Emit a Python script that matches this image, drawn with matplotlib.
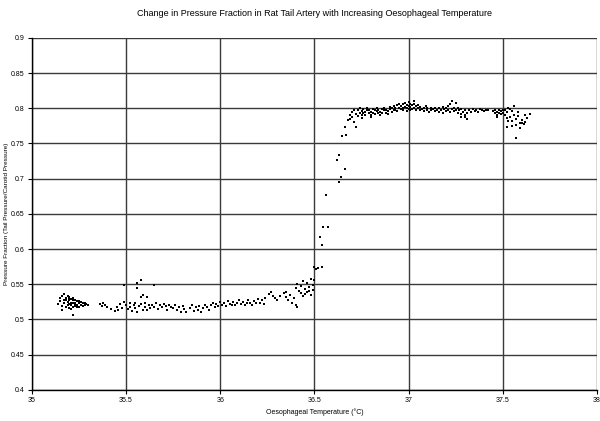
import numpy as np
import matplotlib
matplotlib.use("Agg")
import matplotlib.pyplot as plt

plt.rcParams['font.family'] = ['Liberation Sans', 'DejaVu Sans']

# low plateau and slow rise (below 36.5 C)
base_temp = [35.14, 35.15, 35.15, 35.16, 35.16, 35.17, 35.17, 35.17, 35.18, 35.18,
             35.18, 35.19, 35.19, 35.19, 35.20, 35.20, 35.20, 35.20, 35.21, 35.21,
             35.21, 35.22, 35.22, 35.22, 35.23, 35.23, 35.23, 35.24, 35.24, 35.25,
             35.25, 35.26, 35.26, 35.27, 35.27, 35.28, 35.28, 35.29, 35.16, 35.18,
             35.20, 35.22, 35.24, 35.19, 35.21, 35.17, 35.23, 35.22, 35.25, 35.30,
             35.36, 35.37, 35.38, 35.39, 35.40, 35.42, 35.44, 35.45, 35.46, 35.47,
             35.48, 35.49, 35.49, 35.56, 35.58, 35.56, 35.59, 35.65, 35.61, 35.58,
             35.50, 35.51, 35.52, 35.52, 35.53, 35.54, 35.55, 35.55, 35.56, 35.57,
             35.58, 35.59, 35.60, 35.60, 35.61, 35.62, 35.63, 35.64, 35.65, 35.66,
             35.67, 35.68, 35.69, 35.70, 35.71, 35.72, 35.73, 35.74, 35.75, 35.76,
             35.77, 35.78, 35.79, 35.80, 35.81, 35.82, 35.84, 35.85, 35.86, 35.87,
             35.88, 35.89, 35.90, 35.91, 35.92, 35.93, 35.94, 35.95, 35.96, 35.97,
             35.98, 35.99, 36.00, 36.01, 36.02, 36.03, 36.04, 36.05, 36.06, 36.07,
             36.08, 36.09, 36.10, 36.11, 36.12, 36.13, 36.14, 36.15, 36.16, 36.17,
             36.18, 36.19, 36.20, 36.21, 36.22, 36.23, 36.24, 36.26, 36.27, 36.28,
             36.29, 36.34, 36.35, 36.36, 36.37, 36.38, 36.39, 36.40, 36.41, 36.35,
             36.40, 36.41, 36.42, 36.43, 36.44, 36.45, 36.46, 36.47, 36.48, 36.49,
             36.43, 36.45, 36.47, 36.49, 36.44, 36.48, 36.46, 36.50, 36.30, 36.32]
base_frac = [0.522, 0.526, 0.530, 0.519, 0.533, 0.524, 0.528, 0.536, 0.518, 0.527,
             0.531, 0.521, 0.525, 0.534, 0.516, 0.522, 0.527, 0.532, 0.520, 0.524,
             0.529, 0.517, 0.523, 0.527, 0.519, 0.524, 0.528, 0.520, 0.526, 0.518,
             0.523, 0.521, 0.525, 0.519, 0.524, 0.520, 0.523, 0.522, 0.513, 0.529,
             0.530, 0.531, 0.517, 0.520, 0.515, 0.523, 0.521, 0.507, 0.526, 0.520,
             0.522, 0.519, 0.524, 0.520, 0.517, 0.515, 0.512, 0.518, 0.514, 0.522,
             0.516, 0.525, 0.549, 0.552, 0.556, 0.545, 0.535, 0.549, 0.532, 0.532,
             0.521, 0.515, 0.524, 0.518, 0.512, 0.520, 0.516, 0.523, 0.510, 0.519,
             0.522, 0.514, 0.518, 0.524, 0.513, 0.520, 0.516, 0.521, 0.518, 0.523,
             0.515, 0.520, 0.517, 0.522, 0.519, 0.514, 0.521, 0.518, 0.516, 0.520,
             0.513, 0.517, 0.511, 0.519, 0.515, 0.510, 0.516, 0.521, 0.512, 0.518,
             0.514, 0.519, 0.511, 0.516, 0.521, 0.518, 0.513, 0.520, 0.523, 0.517,
             0.522, 0.519, 0.525, 0.521, 0.524, 0.519, 0.526, 0.522, 0.520, 0.525,
             0.521, 0.524, 0.527, 0.522, 0.525, 0.520, 0.523, 0.528, 0.524, 0.521,
             0.526, 0.523, 0.529, 0.524, 0.527, 0.522, 0.530, 0.536, 0.539, 0.533,
             0.531, 0.537, 0.532, 0.528, 0.535, 0.524, 0.531, 0.521, 0.518, 0.539,
             0.545, 0.550, 0.541, 0.548, 0.555, 0.543, 0.552, 0.546, 0.558, 0.549,
             0.538, 0.536, 0.540, 0.542, 0.533, 0.535, 0.539, 0.556, 0.528, 0.533]

# steep transition
rise_temp = [36.50, 36.51, 36.52, 36.54, 36.53, 36.54, 36.545, 36.57, 36.56, 36.63,
             36.64, 36.66, 36.62, 36.63, 36.645, 36.67, 36.665, 36.68, 36.69, 36.72,
             36.71, 36.71, 36.70, 36.69, 36.70]
rise_frac = [0.575, 0.571, 0.573, 0.575, 0.617, 0.606, 0.632, 0.632, 0.677, 0.695,
             0.703, 0.714, 0.727, 0.734, 0.761, 0.762, 0.774, 0.784, 0.791, 0.774,
             0.781, 0.798, 0.795, 0.785, 0.788]

# high plateau
plateau_temp = [36.72, 36.73, 36.73, 36.74, 36.74, 36.75, 36.75, 36.76, 36.76, 36.77,
                36.77, 36.78, 36.78, 36.79, 36.79, 36.80, 36.80, 36.81, 36.81, 36.82,
                36.82, 36.83, 36.83, 36.84, 36.84, 36.85, 36.85, 36.86, 36.86, 36.87,
                36.87, 36.88, 36.88, 36.89, 36.89, 36.90, 36.90, 36.91, 36.91, 36.92,
                36.92, 36.93, 36.93, 36.94, 36.94, 36.95, 36.95, 36.96, 36.96, 36.97,
                36.97, 36.98, 36.98, 36.99, 36.99, 37.00, 37.00, 37.00, 37.01, 37.01,
                37.02, 37.02, 37.03, 37.03, 37.04, 37.04, 37.05, 37.05, 37.06, 37.06,
                37.07, 37.08, 37.08, 37.09, 37.10, 37.10, 37.11, 37.12, 37.12, 37.13,
                37.14, 37.14, 37.15, 37.16, 37.16, 37.17, 37.18, 37.18, 37.19, 37.20,
                37.20, 37.21, 37.22, 37.22, 37.23, 37.24, 37.24, 37.25, 37.26, 37.26,
                37.27, 37.28, 37.28, 37.29, 37.30, 37.30, 37.31, 37.32, 37.33, 37.34,
                37.35, 37.36, 37.37, 37.38, 37.39, 37.40, 37.41, 37.42, 37.30, 37.28,
                37.31, 37.25, 37.21, 37.23, 36.99, 37.01, 37.03, 36.97, 36.75, 36.80]
plateau_frac = [0.792, 0.797, 0.789, 0.794, 0.800, 0.791, 0.796, 0.799, 0.793, 0.795,
                0.790, 0.797, 0.801, 0.793, 0.798, 0.795, 0.790, 0.799, 0.794, 0.797,
                0.792, 0.796, 0.800, 0.793, 0.798, 0.795, 0.791, 0.799, 0.794, 0.797,
                0.801, 0.794, 0.798, 0.792, 0.796, 0.799, 0.802, 0.795, 0.800, 0.797,
                0.803, 0.798, 0.801, 0.796, 0.804, 0.800, 0.806, 0.799, 0.803, 0.801,
                0.806, 0.802, 0.808, 0.800, 0.805, 0.803, 0.809, 0.799, 0.806, 0.802,
                0.804, 0.799, 0.801, 0.806, 0.798, 0.803, 0.800, 0.805, 0.797, 0.802,
                0.799, 0.801, 0.796, 0.803, 0.798, 0.800, 0.795, 0.801, 0.797, 0.799,
                0.796, 0.801, 0.798, 0.795, 0.800, 0.797, 0.802, 0.794, 0.799, 0.796,
                0.800, 0.797, 0.795, 0.806, 0.799, 0.796, 0.801, 0.798, 0.794, 0.800,
                0.797, 0.792, 0.799, 0.795, 0.790, 0.797, 0.793, 0.798, 0.795, 0.799,
                0.796, 0.798, 0.795, 0.799, 0.797, 0.796, 0.798, 0.797, 0.787, 0.788,
                0.785, 0.808, 0.803, 0.811, 0.796, 0.797, 0.811, 0.797, 0.786, 0.788]

# scattered tail end
end_temp = [37.45, 37.46, 37.46, 37.47, 37.47, 37.48, 37.48, 37.49, 37.49, 37.50,
            37.50, 37.51, 37.52, 37.52, 37.53, 37.54, 37.55, 37.55, 37.56, 37.57,
            37.58, 37.59, 37.60, 37.61, 37.62, 37.52, 37.57, 37.60, 37.57, 37.645,
            37.54, 37.56, 37.58, 37.63, 37.53, 37.55, 37.51, 37.47, 37.59, 37.62]
end_frac = [0.796, 0.793, 0.798, 0.795, 0.791, 0.797, 0.794, 0.792, 0.796, 0.793,
            0.798, 0.790, 0.786, 0.795, 0.800, 0.788, 0.782, 0.796, 0.791, 0.785,
            0.789, 0.779, 0.784, 0.777, 0.781, 0.774, 0.776, 0.779, 0.758, 0.792,
            0.799, 0.803, 0.795, 0.786, 0.782, 0.775, 0.797, 0.787, 0.772, 0.790]

x_ticks = [35, 35.5, 36, 36.5, 37, 37.5, 38]
x_labels = ['35', '35.5', '36', '36.5', '37', '37.5', '38']
y_ticks = [0.4, 0.45, 0.5, 0.55, 0.6, 0.65, 0.7, 0.75, 0.8, 0.85, 0.9]
y_labels = ['0.4', '0.45', '0.5', '0.55', '0.6', '0.65', '0.7', '0.75', '0.8', '0.85', '0.9']

temp = np.concatenate([base_temp, rise_temp, plateau_temp, end_temp])
frac = np.concatenate([base_frac, rise_frac, plateau_frac, end_frac])

fig = plt.figure(figsize=(6, 4.21), dpi=100)
ax = fig.add_axes([0.053, 0.074, 0.942, 0.836])

ax.scatter(temp, frac, s=2, marker='s', c='black', linewidths=0, zorder=3)

ax.set_xlim(35, 38)
ax.set_ylim(0.4, 0.9)
ax.set_xticks(x_ticks)
ax.set_xticklabels(x_labels)
ax.set_yticks(y_ticks)
ax.set_yticklabels(y_labels)
ax.grid(True, color='#3a3a3a', linewidth=1.0)
ax.set_axisbelow(True)

for side in ['top', 'right']:
    ax.spines[side].set_visible(False)
for side in ['left', 'bottom']:
    ax.spines[side].set_linewidth(1.0)

ax.tick_params(axis='both', labelsize=5, length=3, width=0.8, pad=2)

ax.set_title('Change in Pressure Fraction in Rat Tail Artery with Increasing Oesophageal Temperature',
             fontsize=6.5, pad=16)
ax.set_xlabel('Oesophageal Temperature (\u00b0C)', fontsize=5, labelpad=3)
ax.set_ylabel('Pressure Fraction (Tail Pressure/Carotid Pressure)', fontsize=4.6)
ax.yaxis.set_label_coords(-0.04, 0.5)

fig.savefig('out.png', dpi=100)
